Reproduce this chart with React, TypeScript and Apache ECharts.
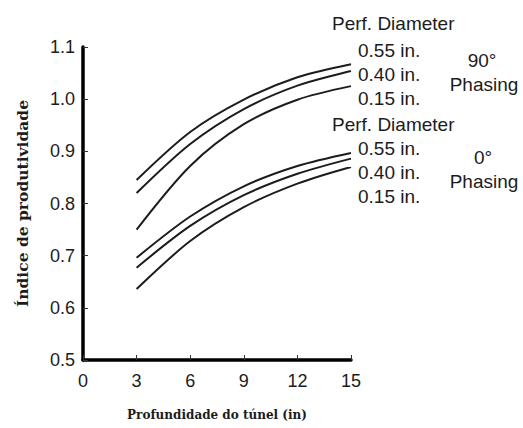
import React, { useEffect, useRef } from "react";
import * as echarts from "echarts";

const depths = [3, 6, 9, 12, 15];
const xTicks = [0, 3, 6, 9, 12, 15];
const yTicks = [0.5, 0.6, 0.7, 0.8, 0.9, 1.0, 1.1];

const phase90_055 = [0.845, 0.937, 0.999, 1.042, 1.067];
const phase90_040 = [0.82, 0.914, 0.981, 1.026, 1.054];
const phase90_015 = [0.75, 0.872, 0.952, 0.999, 1.025];
const phase0_055 = [0.696, 0.775, 0.833, 0.872, 0.897];
const phase0_040 = [0.677, 0.757, 0.816, 0.857, 0.886];
const phase0_015 = [0.636, 0.728, 0.793, 0.838, 0.87];

const seriesNames = [
  "90° 0.55 in.",
  "90° 0.40 in.",
  "90° 0.15 in.",
  "0° 0.55 in.",
  "0° 0.40 in.",
  "0° 0.15 in.",
];
const seriesValues = [phase90_055, phase90_040, phase90_015, phase0_055, phase0_040, phase0_015];

const diameterTitle = "Perf. Diameter";
const diameterLabels = ["0.55 in.", "0.40 in.", "0.15 in."];
const phasingLabels = [["90°", "Phasing"], ["0°", "Phasing"]];

const yName = "Índice de produtividade";
const xName = "Profundidade do túnel (in)";

const INK = "#1c1c1c";
const SANS = "'Liberation Sans', Arial, Helvetica, sans-serif";
const SERIF = "'DejaVu Serif', 'Liberation Serif', serif";

export default function App() {
  const ref = useRef<HTMLDivElement>(null);
  useEffect(() => {
    if (!ref.current) return;
    const chart = echarts.init(ref.current, undefined, { renderer: "svg" });

    const txt = (x: number, y: number, text: string, align: string = "left") => ({
      type: "text",
      x,
      y,
      style: {
        text,
        fill: INK,
        font: `19px ${SANS}`,
        textAlign: align,
        textVerticalAlign: "middle",
      },
    });

    const graphic: any[] = [
      txt(332, 23, diameterTitle),
      txt(358, 50, diameterLabels[0]),
      txt(358, 74, diameterLabels[1]),
      txt(358, 98, diameterLabels[2]),
      txt(482, 60, phasingLabels[0][0], "center"),
      txt(484, 84, phasingLabels[0][1], "center"),
      txt(332, 124, diameterTitle),
      txt(358, 148, diameterLabels[0]),
      txt(358, 172, diameterLabels[1]),
      txt(358, 196, diameterLabels[2]),
      txt(483, 157, phasingLabels[1][0], "center"),
      txt(484, 181, phasingLabels[1][1], "center"),
    ];

    chart.setOption({
      animation: false,
      backgroundColor: "#ffffff",
      grid: { left: 83, right: 172, top: 47, bottom: 68, containLabel: false },
      xAxis: {
        type: "value",
        min: xTicks[0],
        max: xTicks[xTicks.length - 1],
        interval: 3,
        name: xName,
        nameLocation: "middle",
        nameGap: 49,
        nameTextStyle: { color: INK, fontFamily: SERIF, fontWeight: "bold", fontSize: 12 },
        axisLine: { show: true, onZero: false, lineStyle: { color: "#000", width: 3.5 } },
        axisTick: { show: true, inside: true, length: 5, lineStyle: { color: "#333", width: 1 } },
        axisLabel: { color: INK, fontFamily: SANS, fontSize: 18, margin: 12 },
        splitLine: { show: false },
      },
      yAxis: {
        type: "value",
        min: yTicks[0],
        max: yTicks[yTicks.length - 1],
        interval: 0.1,
        name: yName,
        nameLocation: "middle",
        nameGap: 53,
        nameTextStyle: { color: INK, fontFamily: SERIF, fontWeight: "bold", fontSize: 15.5 },
        axisLine: { show: true, onZero: false, lineStyle: { color: "#000", width: 3.5 } },
        axisTick: { show: true, inside: true, length: 5, lineStyle: { color: "#333", width: 1 } },
        axisLabel: {
          color: INK,
          fontFamily: SANS,
          fontSize: 18,
          margin: 8,
          formatter: (v: number) => v.toFixed(1),
        },
        splitLine: { show: false },
      },
      series: seriesValues.map((vals, i) => ({
        name: seriesNames[i],
        type: "line",
        smooth: 0.3,
        symbol: "none",
        lineStyle: { color: INK, width: 2 },
        data: depths.map((d, j) => [d, vals[j]]),
      })),
      graphic,
    });

    return () => chart.dispose();
  }, []);

  return (
    <div
      ref={ref}
      style={{ position: "fixed", left: 0, top: 0, width: 523, height: 428 }}
    />
  );
}
